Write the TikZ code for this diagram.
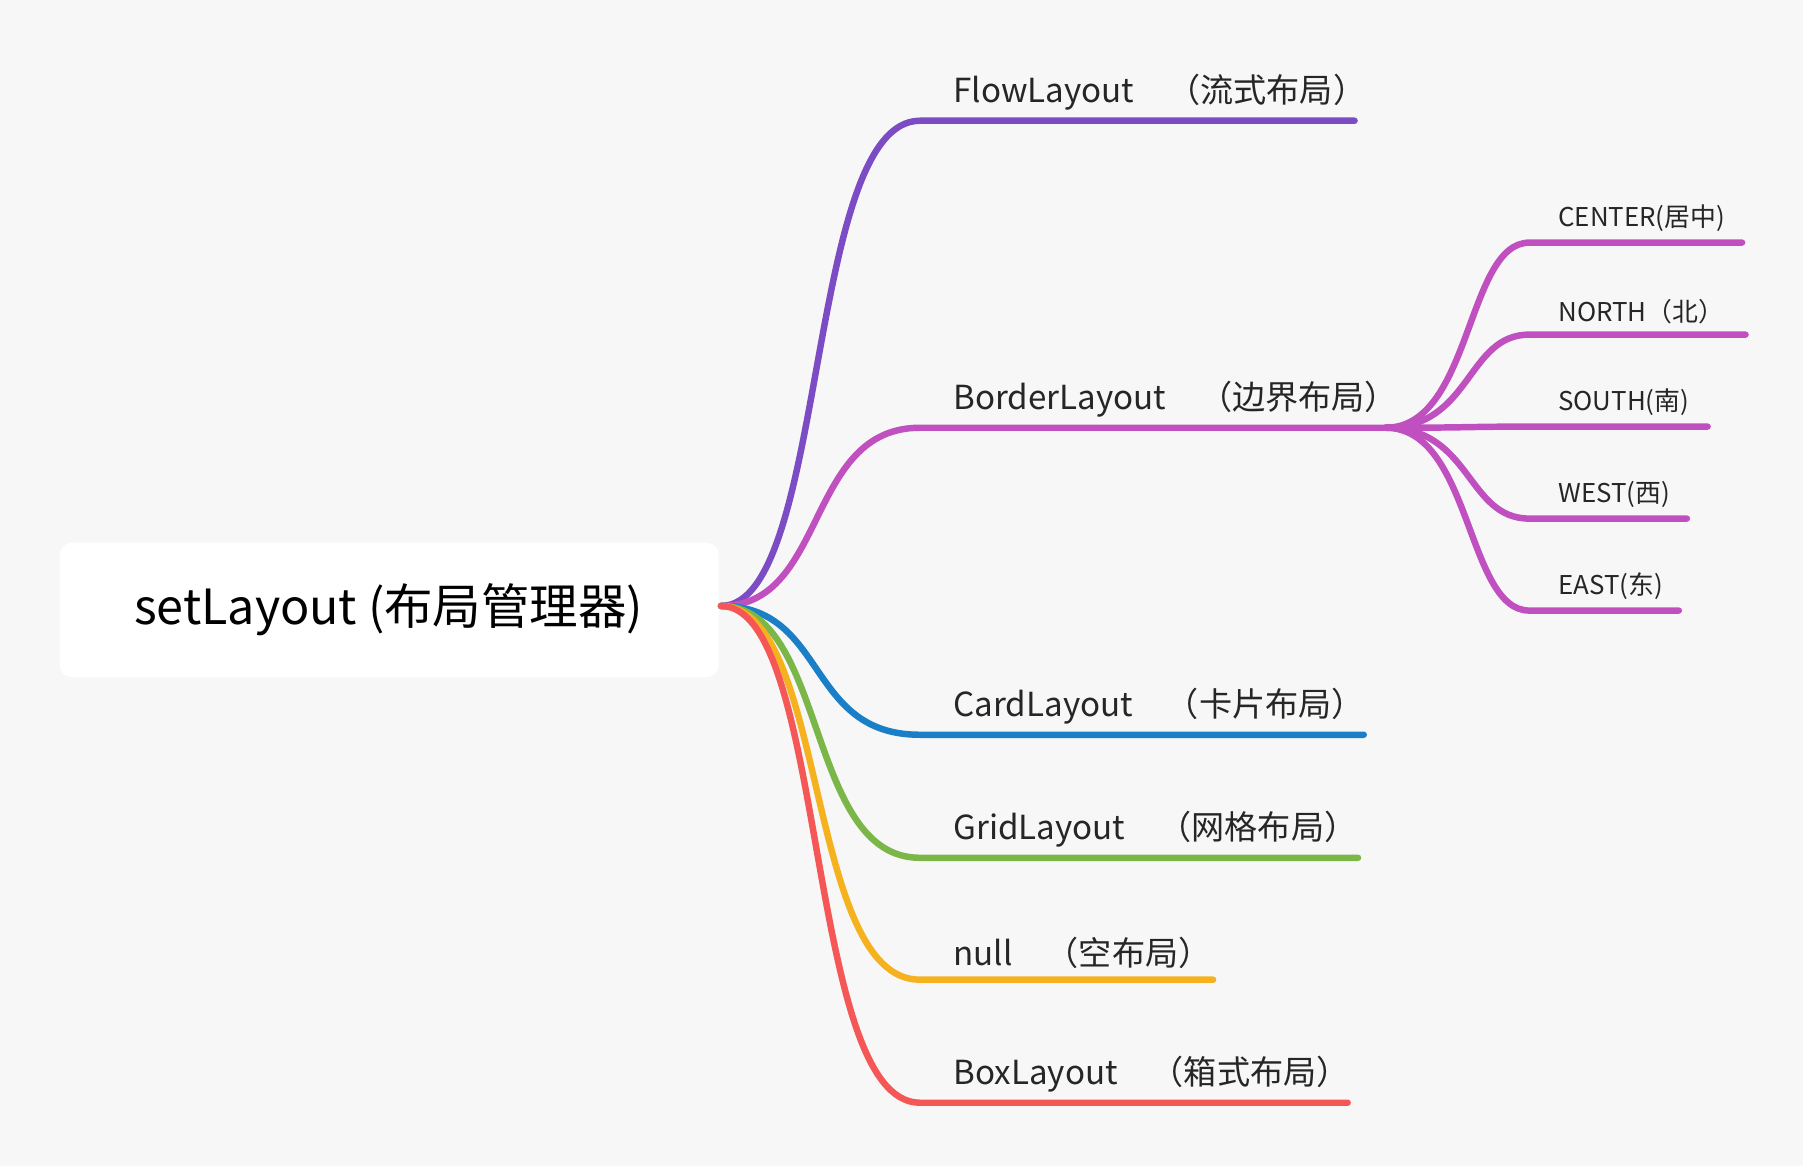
\documentclass[tikz,border=0pt]{standalone}
\usepackage{fontspec}
\setmainfont{Noto Sans CJK SC}
\definecolor{bgc}{HTML}{F7F7F7}
\definecolor{cflow}{HTML}{7B4CC4}
\definecolor{cborder}{HTML}{C04FC0}
\definecolor{ccard}{HTML}{1A7FC7}
\definecolor{cgrid}{HTML}{7AB648}
\definecolor{cnull}{HTML}{F5B21E}
\definecolor{cbox}{HTML}{F55656}
\begin{document}
\begin{tikzpicture}
  [
    br/.style={line width=1.6pt, line cap=round},
    lbl/.style={anchor=south west, inner sep=1pt, font=\fontsize{8.2}{10}\selectfont, text=black!85},
    sublbl/.style={anchor=south west, inner sep=1pt, font=\fontsize{6.4}{8}\selectfont, text=black!85}
  ]
  \fill [bgc] (0,0) rectangle (15.68,-10.14);
  \fill [white, rounded corners=3pt] (0.52,-4.72) rectangle (6.25,-5.89);
  \node (root) at (3.38,-5.30) {\fontsize{12}{14}\selectfont setLayout (布局管理器)};
  \coordinate (rA) at (6.27,-5.27);

  % first level
  \node (nFlow)   at (8.25,-1.00) [lbl] {FlowLayout\quad（流式布局）};
  \node (nBorder) at (8.25,-3.67) [lbl] {BorderLayout\quad（边界布局）};
  \node (nCard)   at (8.25,-6.34) [lbl] {CardLayout\quad（卡片布局）};
  \node (nGrid)   at (8.25,-7.41) [lbl] {GridLayout\quad（网格布局）};
  \node (nNull)   at (8.25,-8.47) [lbl] {null\quad（空布局）};
  \node (nBox)    at (8.25,-9.54) [lbl] {BoxLayout\quad（箱式布局）};

  \foreach \n/\y/\e/\c in {Flow/1.05/11.78/cflow, Border/3.72/12.05/cborder,
      Card/6.39/11.86/ccard, Grid/7.46/11.81/cgrid, Null/8.52/10.55/cnull, Box/9.59/11.72/cbox}{
    \coordinate (s\n) at (8.0,-\y);
    \coordinate (e\n) at (\e,-\y);
    \draw [br, \c] (rA) .. controls (7.2,-5.27) and (7.0,-\y) .. (s\n) -- (e\n);
  }

  % second level
  \node (nCenter) at (13.51,-2.06) [sublbl] {CENTER(居中)};
  \node (nNorth)  at (13.51,-2.86) [sublbl] {NORTH（北）};
  \node (nSouth)  at (13.51,-3.66) [sublbl] {SOUTH(南)};
  \node (nWest)   at (13.51,-4.46) [sublbl] {WEST(西)};
  \node (nEast)   at (13.51,-5.26) [sublbl] {EAST(东)};

  \foreach \n/\y/\e in {Center/2.11/15.15, North/2.91/15.18, South/3.71/14.85,
      West/4.51/14.67, East/5.31/14.60}{
    \coordinate (t\n) at (13.30,-\y);
    \coordinate (f\n) at (\e,-\y);
    \draw [br, cborder] (eBorder) .. controls (12.8,-3.72) and (12.75,-\y) .. (t\n) -- (f\n);
  }
\end{tikzpicture}
\end{document}
